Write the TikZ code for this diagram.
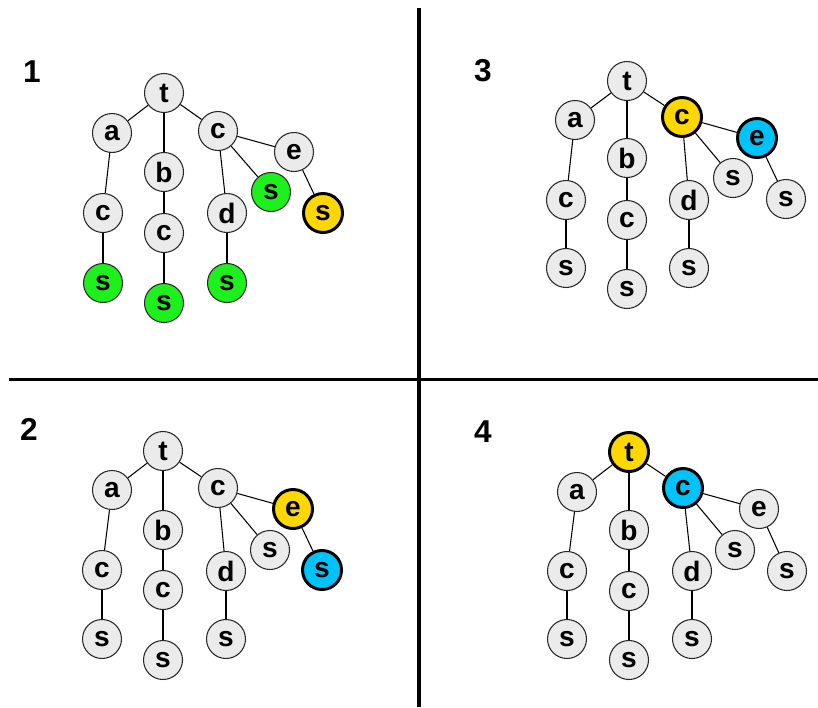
\documentclass[tikz,border=0pt]{standalone}
\usepackage{fontspec}
\setmainfont{Liberation Sans}
\usepackage{xcolor}
\usepackage{tikz}
\usetikzlibrary{positioning}
\pgfdeclarelayer{nodelayer}
\pgfdeclarelayer{edgelayer}
\pgfsetlayers{edgelayer,nodelayer,main}

\definecolor{nodegrey}{RGB}{235,235,235}
\definecolor{hitgreen}{RGB}{30,240,30}
\definecolor{curyellow}{RGB}{255,215,0}
\definecolor{nextblue}{RGB}{0,195,250}

\tikzset{
  letter/.style={circle, draw=black!85, line width=0.6pt, fill=nodegrey, minimum size=0.78cm, inner sep=0pt,
    font=\bfseries\fontsize{16}{16}\selectfont},
  found/.style={letter, fill=hitgreen},
  cur/.style={letter, fill=curyellow, draw=black, line width=1.7pt},
  nxt/.style={letter, fill=nextblue, draw=black, line width=1.7pt},
  panelnum/.style={font=\bfseries\fontsize{18}{18}\selectfont},
  divider/.style={line width=2.1pt},
  branch/.style={line width=0.6pt}
}

\begin{document}
\begin{tikzpicture}[x=0.02cm, y=-0.02cm]
  \useasboundingbox (0,0) rectangle (818,707);
  \begin{pgfonlayer}{nodelayer}
    % panel 1
    \node [panelnum] (n1) at (32, 72) {1};
    \node [letter] (t1) at (164, 93) {t};
    \node [letter] (a1) at (112, 133) {a};
    \node [letter] (c1) at (218, 131) {c};
    \node [letter] (e1) at (294, 152) {e};
    \node [letter] (b1) at (164, 172) {b};
    \node [letter] (ca1) at (103, 213) {c};
    \node [letter] (cb1) at (164, 233) {c};
    \node [letter] (d1) at (227, 213) {d};
    \node [found] (sc1) at (271, 192) {s};
    \node [cur] (se1) at (323, 213) {s};
    \node [found] (sca1) at (103, 283) {s};
    \node [found] (scb1) at (164, 303) {s};
    \node [found] (sd1) at (227, 283) {s};
    % panel 2
    \node [panelnum] (n2) at (29, 429) {2};
    \node [letter] (t2) at (163, 451) {t};
    \node [letter] (a2) at (112, 490) {a};
    \node [letter] (c2) at (218, 488) {c};
    \node [cur] (e2) at (293, 509) {e};
    \node [letter] (b2) at (163, 530) {b};
    \node [letter] (ca2) at (102, 570) {c};
    \node [letter] (cb2) at (163, 590) {c};
    \node [letter] (d2) at (226, 571) {d};
    \node [letter] (sc2) at (270, 550) {s};
    \node [nxt] (se2) at (322, 570) {s};
    \node [letter] (sca2) at (102, 639) {s};
    \node [letter] (scb2) at (163, 660) {s};
    \node [letter] (sd2) at (226, 639) {s};
    % panel 3
    \node [panelnum] (n3) at (483, 71) {3};
    \node [letter] (t3) at (627, 81) {t};
    \node [letter] (a3) at (575, 120) {a};
    \node [cur] (c3) at (682, 117) {c};
    \node [nxt] (e3) at (757, 138) {e};
    \node [letter] (b3) at (627, 158) {b};
    \node [letter] (ca3) at (566, 200) {c};
    \node [letter] (cb3) at (627, 220) {c};
    \node [letter] (d3) at (689, 200) {d};
    \node [letter] (sc3) at (733, 178) {s};
    \node [letter] (se3) at (786, 199) {s};
    \node [letter] (sca3) at (566, 268) {s};
    \node [letter] (scb3) at (627, 289) {s};
    \node [letter] (sd3) at (689, 268) {s};
    % panel 4
    \node [panelnum] (n4) at (483, 432) {4};
    \node [cur] (t4) at (629, 452) {t};
    \node [letter] (a4) at (577, 492) {a};
    \node [nxt] (c4) at (683, 488) {c};
    \node [letter] (e4) at (759, 509) {e};
    \node [letter] (b4) at (629, 530) {b};
    \node [letter] (ca4) at (567, 571) {c};
    \node [letter] (cb4) at (629, 591) {c};
    \node [letter] (d4) at (692, 571) {d};
    \node [letter] (sc4) at (735, 550) {s};
    \node [letter] (se4) at (787, 571) {s};
    \node [letter] (sca4) at (567, 639) {s};
    \node [letter] (scb4) at (629, 660) {s};
    \node [letter] (sd4) at (692, 639) {s};
    % dividers
    \coordinate (vtop) at (419, 8);
    \coordinate (vbot) at (419, 707);
    \coordinate (hleft) at (9, 379.5);
    \coordinate (hright) at (818, 379.5);
  \end{pgfonlayer}
  \begin{pgfonlayer}{edgelayer}
    \foreach \p in {1,2,3,4} {
      \draw [branch] (t\p) to (a\p);
      \draw [branch] (t\p) to (b\p);
      \draw [branch] (t\p) to (c\p);
      \draw [branch] (a\p) to (ca\p);
      \draw [branch] (ca\p) to (sca\p);
      \draw [branch] (b\p) to (cb\p);
      \draw [branch] (cb\p) to (scb\p);
      \draw [branch] (c\p) to (d\p);
      \draw [branch] (d\p) to (sd\p);
      \draw [branch] (c\p) to (sc\p);
      \draw [branch] (c\p) to (e\p);
      \draw [branch] (e\p) to (se\p);
    }
    \draw [divider] (vtop) to (vbot);
    \draw [divider] (hleft) to (hright);
  \end{pgfonlayer}
\end{tikzpicture}
\end{document}
